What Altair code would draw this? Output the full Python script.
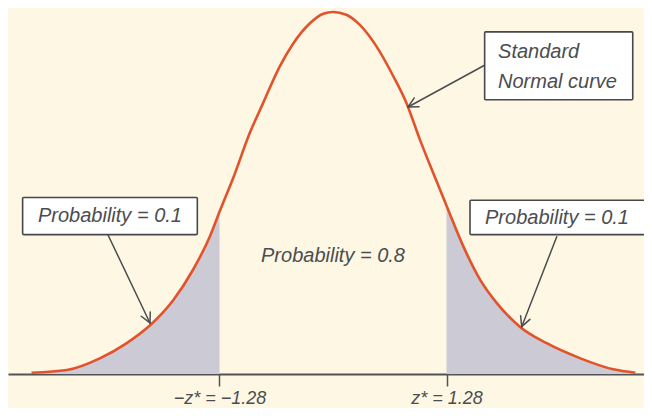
import math
import altair as alt
import pandas as pd

# ---- data ----
# standard normal curve: position z and height (density)
curve_z = [-3.40, -3.00, -2.63, -2.33, -2.06, -1.80, -1.58, -1.39, -1.28, -1.12, -0.94,
           -0.79, -0.60, -0.45, -0.26, -0.11, 0.00, 0.15, 0.30, 0.49, 0.68, 0.83, 0.98,
           1.13, 1.28, 1.47, 1.66, 1.85, 2.11, 2.41, 2.79, 3.16, 3.41]
curve_d = [0.0014, 0.0044, 0.0173, 0.0339, 0.0541, 0.0818, 0.1149, 0.1517, 0.1793, 0.218,
           0.266, 0.299, 0.340, 0.365, 0.3875, 0.398, 0.400, 0.397, 0.386, 0.362, 0.329,
           0.299, 0.259, 0.222, 0.186, 0.141, 0.104, 0.078, 0.052, 0.034, 0.0173, 0.0052,
           0.0014]

z_star = [-1.28, 1.28]
tick_labels = ["\u2212z* = \u22121.28", "z* = 1.28"]

# annotations
box_text = ["Probability = 0.1", "Probability = 0.1"]
box_z = [-2.515, 2.526]
box_d = [0.1746, 0.1724]
box_z1 = [-3.50, 1.545]
box_z2 = [-1.53, 3.52]
box_d1 = [0.154, 0.154]
box_d2 = [0.195, 0.192]

mid_text = ["Probability = 0.8"]
mid_z = [0.0]
mid_d = [0.1304]

curve_note_lines = ["Standard", "Normal curve"]
curve_note_z = [1.861, 1.861]
curve_note_d = [0.3558, 0.3227]
curve_box = {"z1": 1.71, "z2": 3.38, "d1": 0.303, "d2": 0.378}

arrow_z1 = [-2.537, 2.523, 1.714]
arrow_d1 = [0.1536, 0.1517, 0.3414]
arrow_z2 = [-2.064, 2.128, 0.846]
arrow_d2 = [0.0564, 0.0523, 0.2950]

# ---- layout / style ----
W, H = 636, 366
X_MIN, X_MAX = -3.665, 3.507
Y_MAX = 0.4044
BG = "#fdf7e4"
CURVE = "#e2532b"
SHADE = "#cbcad5"
INK = "#4b4d50"
FONT = "Liberation Sans"
FS = 20

PXZ = W / (X_MAX - X_MIN)
PXD = H / Y_MAX

curve_df = pd.DataFrame({"z": curve_z, "d": curve_d})
left_tail = curve_df[curve_df.z <= z_star[0]]
right_tail = curve_df[curve_df.z >= z_star[1]]

xs = alt.Scale(domain=[X_MIN, X_MAX], nice=False, zero=False)
ys = alt.Scale(domain=[0, Y_MAX], nice=False, zero=False)

label_expr = f"datum.value < 0 ? '{tick_labels[0]}' : '{tick_labels[1]}'"
xaxis = alt.Axis(values=z_star, labelExpr=label_expr, title=None, grid=False,
                 domainColor="#505357", domainWidth=2, tickColor="#505357",
                 tickWidth=1.5, tickSize=12, labelPadding=3, labelFont=FONT,
                 labelFontSize=18, labelFontStyle="italic", labelColor=INK,
                 labelFlush=False, labelOverlap=False)


def X(field):
    return alt.X(field, type="quantitative", scale=xs, axis=xaxis)


def Y(field):
    return alt.Y(field, type="quantitative", scale=ys, axis=None, stack=None)


area_l = alt.Chart(left_tail).mark_area(color=SHADE, opacity=1, interpolate="monotone").encode(
    x=X("z"), y=Y("d"))
area_r = alt.Chart(right_tail).mark_area(color=SHADE, opacity=1, interpolate="monotone").encode(
    x=X("z"), y=Y("d"))

line = alt.Chart(curve_df).mark_line(color=CURVE, strokeWidth=2.6, interpolate="monotone").encode(
    x=X("z"), y=Y("d"))

# arrows: shafts plus two wings each
rows = []
L, A = 11, math.radians(27)
for za, da, zb, db in zip(arrow_z1, arrow_d1, arrow_z2, arrow_d2):
    rows.append({"z": za, "d": da, "z2": zb, "d2": db})
    ang = math.atan2((db - da) * PXD, (zb - za) * PXZ)
    for s in (1, -1):
        rows.append({"z": zb, "d": db,
                     "z2": zb - L * math.cos(ang + s * A) / PXZ,
                     "d2": db - L * math.sin(ang + s * A) / PXD})
arrow_df = pd.DataFrame(rows)
arrows = alt.Chart(arrow_df).mark_rule(color=INK, strokeWidth=1.5, strokeCap="round").encode(
    x=X("z"), y=Y("d"), x2="z2", y2="d2")

box_df = pd.DataFrame({"z": box_z1 + [curve_box["z1"]], "z2": box_z2 + [curve_box["z2"]],
                       "d": box_d1 + [curve_box["d1"]], "d2": box_d2 + [curve_box["d2"]]})
boxes = alt.Chart(box_df).mark_rect(fill="white", stroke="#45474a", strokeWidth=1.6,
                                    cornerRadius=1).encode(
    x=X("z"), x2="z2", y=Y("d"), y2="d2")

ctext_df = pd.DataFrame({"t": box_text + mid_text, "z": box_z + mid_z, "d": box_d + mid_d})
ctexts = alt.Chart(ctext_df).mark_text(font=FONT, fontSize=FS, fontStyle="italic", color=INK,
                                       align="center", baseline="middle").encode(
    x=X("z"), y=Y("d"), text="t:N")

ltext_df = pd.DataFrame({"t": curve_note_lines, "z": curve_note_z, "d": curve_note_d})
ltexts = alt.Chart(ltext_df).mark_text(font=FONT, fontSize=FS, fontStyle="italic", color=INK,
                                       align="left", baseline="middle").encode(
    x=X("z"), y=Y("d"), text="t:N")

chart = alt.layer(area_l, area_r, line, arrows, boxes, ctexts, ltexts).properties(
    width=W, height=H, background=BG,
    autosize=alt.AutoSizeParams(type="none"),
    padding={"left": 0, "right": 0, "top": 0, "bottom": 34},
).configure_view(stroke=None)

chart.save("out.html", embed_options={"renderer": "svg", "actions": False})
